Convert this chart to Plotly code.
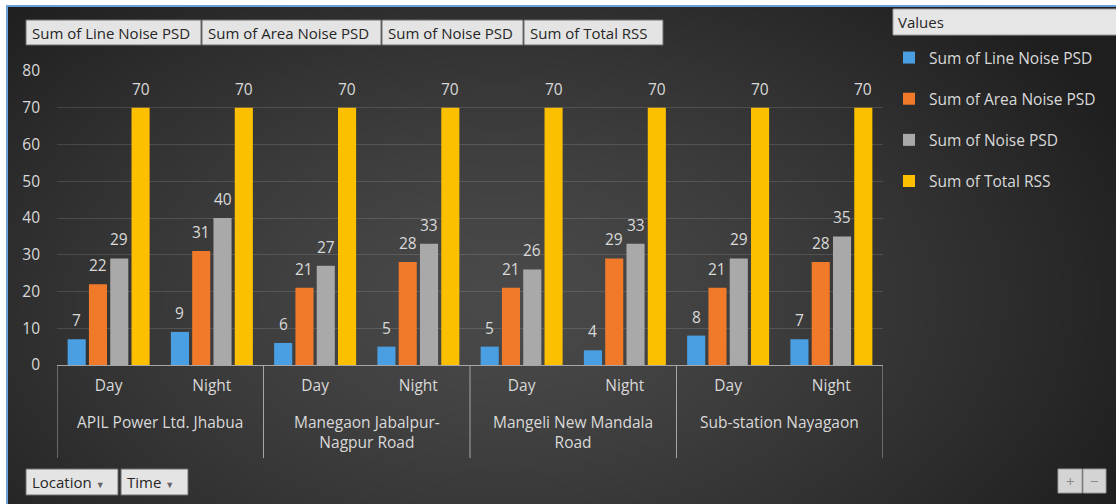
import base64, zlib, struct
import numpy as np
import plotly.graph_objects as go

W, H = 1116, 504

# ---------------- data ----------------
locations = ["APIL Power Ltd. Jhabua", "Manegaon Jabalpur-<br>Nagpur Road",
             "Mangeli New Mandala<br>Road", "Sub-station Nayagaon"]
times = ["Day", "Night"]
series_names = ["Sum of Line Noise PSD", "Sum of Area Noise PSD",
                "Sum of Noise PSD", "Sum of Total RSS"]
line_noise_psd = [7, 9, 6, 5, 5, 4, 8, 7]
area_noise_psd = [22, 31, 21, 28, 21, 29, 21, 28]
noise_psd = [29, 40, 27, 33, 26, 33, 29, 35]
total_rss = [70, 70, 70, 70, 70, 70, 70, 70]
y_ticks = [0, 10, 20, 30, 40, 50, 60, 70, 80]
field_buttons = ["Sum of Line Noise PSD", "Sum of Area Noise PSD", "Sum of Noise PSD", "Sum of Total RSS"]
axis_buttons = ["Location", "Time"]

colors = ["#4a9fe3", "#f07a2a", "#a9a9a9", "#fdc000"]
FONT = "Open Sans"
TXT = "#d9d9d9"
FS = 15.5

# ---------------- background image (radial gradient) ----------------
def make_png(arr):
    h, w, _ = arr.shape
    raw = b"".join(b"\x00" + arr[i].tobytes() for i in range(h))
    def chunk(t, d):
        c = struct.pack(">I", len(d)) + t + d
        return c + struct.pack(">I", zlib.crc32(t + d) & 0xffffffff)
    png = b"\x89PNG\r\n\x1a\n"
    png += chunk(b"IHDR", struct.pack(">IIBBBBB", w, h, 8, 2, 0, 0, 0))
    png += chunk(b"IDAT", zlib.compress(raw, 9))
    png += chunk(b"IEND", b"")
    return "data:image/png;base64," + base64.b64encode(png).decode()

yy, xx = np.mgrid[0:H, 0:W].astype(float)
d = np.sqrt(((xx - 500) / 700.0) ** 2 + ((yy - 300) / 430.0) ** 2)
d = np.clip(d, 0, 1)
val = 74 - (74 - 30) * d ** 1.3
img = np.stack([val, val, val], axis=-1)
img[:5, :, :] = 255
img[:, :6, :] = 255
img[5:7, 6:, :] = [106, 159, 216]
img[5:, 6:8, :] = [106, 159, 216]
img = np.clip(img, 0, 255).astype(np.uint8)
bg_src = make_png(img)

# ---------------- figure ----------------
def px(x):
    return x / W

def py(y):
    return 1 - y / H

BARGAP, BARGROUPGAP = 0.175, 0.15
x_pos = list(range(len(line_noise_psd)))
all_series = [line_noise_psd, area_noise_psd, noise_psd, total_rss]
fig = go.Figure()
for name, vals, col in zip(series_names, all_series, colors):
    fig.add_trace(go.Bar(
        x=x_pos, y=vals, name=name, marker=dict(color=col, line=dict(width=0)),
        legendgroup=name, hoverinfo="x+y+name",
    ))

shapes = []
annotations = []

n_series = len(all_series)
slot = (1 - BARGAP) / n_series
for k, vals in enumerate(all_series):
    off = -(1 - BARGAP) / 2 + slot * (k + 0.5)
    for i, v in zip(x_pos, vals):
        annotations.append(dict(xref="x", yref="y", x=i + off, y=v, yanchor="middle",
                                xanchor="center", yshift=19, text=str(v), showarrow=False,
                                font=dict(family=FONT, size=FS, color=TXT)))

n_groups = len(locations)
per = len(times)
for g in range(n_groups + 1):
    shapes.append(dict(type="line", xref="x", yref="paper",
                       x0=g * per - 0.5, x1=g * per - 0.5,
                       y0=py(365), y1=py(458),
                       line=dict(color="#a6a6a6", width=1)))
for g, loc in enumerate(locations):
    annotations.append(dict(xref="x", yref="paper", x=g * per + (per - 1) / 2,
                            y=py(409), yanchor="top", xanchor="center",
                            text=loc, showarrow=False, align="center",
                            font=dict(family=FONT, size=FS, color=TXT)))

def button(x0, x1, y0, y1, label, size=15):
    shapes.append(dict(type="rect", xref="paper", yref="paper",
                       x0=px(x0), x1=px(x1), y0=py(y1), y1=py(y0),
                       fillcolor="#e4e4e4", line=dict(color="#6e6e6e", width=1),
                       layer="above"))
    annotations.append(dict(xref="paper", yref="paper", x=px(x0 + 4), y=py((y0 + y1) / 2),
                            xanchor="left", yanchor="middle", text=label, showarrow=False,
                            font=dict(family=FONT, size=size, color="#262626")))

top_edges = [26, 202, 382, 524, 664]
for i, lab in enumerate(field_buttons):
    button(top_edges[i], top_edges[i + 1] - 1, 20, 45, lab)

arrow = " <span style='font-size:9px;color:#666'>▼</span>"
button(26, 118, 469, 495, axis_buttons[0] + arrow)
button(121, 188, 469, 495, axis_buttons[1] + arrow)

for x0, x1, lab in [(1058, 1082, "+"), (1083, 1106, "−")]:
    shapes.append(dict(type="rect", xref="paper", yref="paper",
                       x0=px(x0), x1=px(x1), y0=py(493), y1=py(469),
                       fillcolor="#d4d4d4", line=dict(color="#9a9a9a", width=1), layer="above"))
    annotations.append(dict(xref="paper", yref="paper", x=px((x0 + x1) / 2), y=py(481),
                            xanchor="center", yanchor="middle", text=lab, showarrow=False,
                            font=dict(family=FONT, size=15, color="#8a8a8a")))

shapes.append(dict(type="rect", xref="paper", yref="paper",
                   x0=px(893), x1=px(1117), y0=py(35), y1=py(9),
                   fillcolor="#e6e6e6", line=dict(color="#9a9a9a", width=1), layer="above"))
annotations.append(dict(xref="paper", yref="paper", x=px(896), y=py(22),
                        xanchor="left", yanchor="middle", text="Values", showarrow=False,
                        font=dict(family=FONT, size=15, color="#262626")))

fig.update_layout(
    width=W, height=H,
    margin=dict(l=0, r=0, t=0, b=0, pad=0, autoexpand=False),
    paper_bgcolor="rgba(0,0,0,0)", plot_bgcolor="rgba(0,0,0,0)",
    barmode="group", bargap=BARGAP, bargroupgap=BARGROUPGAP,
    font=dict(family=FONT, color=TXT),
    showlegend=True,
    legend=dict(x=px(889), y=py(41), xanchor="left", yanchor="top",
                bgcolor="rgba(0,0,0,0)", font=dict(family=FONT, size=FS, color=TXT),
                traceorder="grouped", tracegroupgap=18, itemclick=False),
    xaxis=dict(domain=[px(57), px(883)], range=[-0.5, len(x_pos) - 0.5],
               tickvals=x_pos, ticktext=times * n_groups,
               showline=True, linecolor="#a6a6a6", linewidth=1,
               showgrid=False, zeroline=False, ticks="", ticklabelstandoff=6,
               tickfont=dict(family=FONT, size=FS, color=TXT), fixedrange=True),
    yaxis=dict(domain=[py(365), py(71)], range=[0, 80], tickvals=y_ticks,
               showgrid=True, gridcolor="rgba(255,255,255,0.13)", gridwidth=1,
               zeroline=False, showline=False, ticks="", ticklabelstandoff=16,
               tickfont=dict(family=FONT, size=FS, color=TXT), fixedrange=True),
    images=[dict(source=bg_src, xref="paper", yref="paper", x=0, y=1, sizex=1, sizey=1,
                 sizing="stretch", xanchor="left", yanchor="top", layer="below")],
    shapes=shapes, annotations=annotations,
)

fig.write_html("out.html", config=dict(displayModeBar=False),
               post_script="document.body.style.margin='0';document.body.style.overflow='hidden';")
